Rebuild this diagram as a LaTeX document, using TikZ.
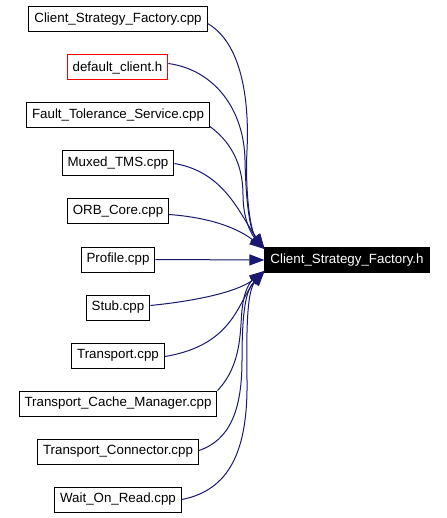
\documentclass[tikz,border=0pt]{standalone}
\usepackage{fontspec}
\setmainfont{Liberation Sans}
\usetikzlibrary{arrows.meta}
\definecolor{edgeblue}{RGB}{25,25,112}

\begin{document}
\begin{tikzpicture}[x=1pt,y=-1pt,font=\fontsize{13.33}{15}\selectfont,
  file/.style={draw=black,line width=1pt,rectangle,inner xsep=5.5pt,minimum height=25pt,inner ysep=0pt},
  dep/.style={draw=edgeblue,line width=1pt,-{Triangle[length=15pt,width=11pt]}}]
\useasboundingbox (0,0) rectangle (446,518);
\node[file,fill=black,text=white] (csfh) at (347,260) {Client\_Strategy\_Factory.h};
\node[file,draw=red] (defclient) at (117.5,67.5) {default\_client.h};
\foreach \n/\t/\y in %
{csfcpp/Client\_Strategy\_Factory.cpp/19.5,ftscpp/Fault\_Tolerance\_Service.cpp/115.5,
 muxedcpp/Muxed\_TMS.cpp/163.5,orbcpp/ORB\_Core.cpp/211.5,profilecpp/Profile.cpp/259.5,
 stubcpp/Stub.cpp/307.5,transportcpp/Transport.cpp/355.5,tcmcpp/Transport\_Cache\_Manager.cpp/403.5,
 tccpp/Transport\_Connector.cpp/451.5,worcpp/Wait\_On\_Read.cpp/499.5} {
   \node[file] (\n) at (118,\y) {\t};
}
% upper edges
\draw[dep] ([yshift=-4pt]csfcpp.east) .. controls (245,45) and (249,110) .. (247,150)
   .. controls (245,190) and (250,230) .. ([yshift=11pt]csfh.west);
\draw[dep] ([yshift=4pt]defclient.east) .. controls (215,70) and (244,110) .. (245,160)
   .. controls (246,205) and (250,230) .. ([yshift=11pt]csfh.west);
\draw[dep] ([yshift=2pt]ftscpp.south east) .. controls (235,145) and (243,170) .. (243,195)
   .. controls (243,220) and (252,235) .. ([yshift=11pt]csfh.west);
\draw[dep] (muxedcpp.east) .. controls (225,172) and (240,215) .. ([yshift=11pt]csfh.west);
\draw[dep] ([yshift=-3pt]orbcpp.east) .. controls (215,218) and (240,230) .. ([yshift=11pt]csfh.west);
\draw[dep] (profilecpp.east) -- (csfh.west);
% lower edges
\draw[dep] ([yshift=2pt]stubcpp.east) .. controls (205,300) and (240,290) .. ([yshift=-11pt]csfh.west);
\draw[dep] ([yshift=-1pt]transportcpp.east) .. controls (235,345) and (238,300) .. ([yshift=-11pt]csfh.west);
\draw[dep] (tcmcpp.north east) .. controls (242,365) and (240,330) .. (242,310)
   .. controls (244,290) and (250,282) .. ([yshift=-11pt]csfh.west);
\draw[dep] ([yshift=1pt]tccpp.east) .. controls (230,440) and (242,410) .. (242,360)
   .. controls (242,310) and (246,290) .. ([yshift=-11pt]csfh.west);
\draw[dep] (worcpp.east) .. controls (230,490) and (248,450) .. (247,380)
   .. controls (246,320) and (248,290) .. ([yshift=-11pt]csfh.west);
\end{tikzpicture}
\end{document}
